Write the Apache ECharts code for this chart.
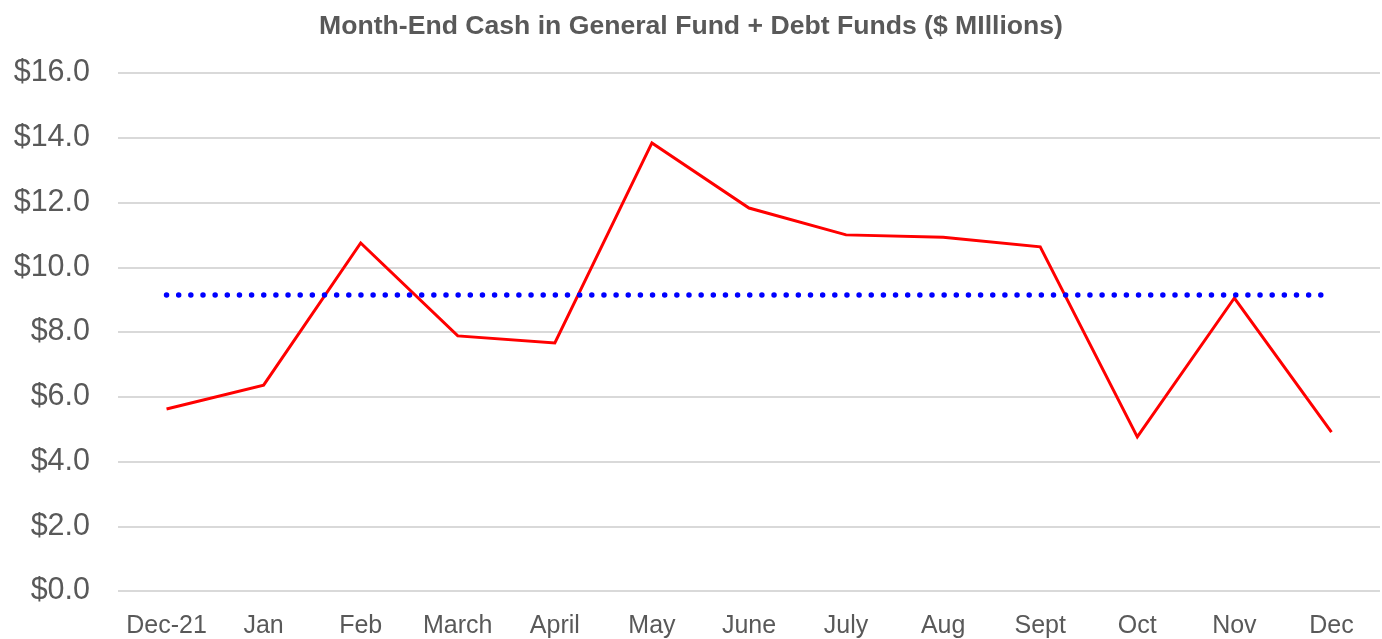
<!DOCTYPE html>
<html>
<head>
<meta charset="utf-8">
<script src="https://cdn.jsdelivr.net/npm/echarts@6/dist/echarts.min.js"></script>
<style>
  html, body { margin: 0; padding: 0; background: #fff; }
  #chart { width: 1382px; height: 639px; }
</style>
</head>
<body>
<div id="chart"></div>
<script>
const months = ['Dec-21', 'Jan', 'Feb', 'March', 'April', 'May', 'June', 'July', 'Aug', 'Sept', 'Oct', 'Nov', 'Dec'];
const cash = [5.62, 6.36, 10.75, 7.88, 7.66, 13.84, 11.83, 11.0, 10.93, 10.63, 4.76, 9.05, 4.91];
const average = [9.14, 9.14, 9.14, 9.14, 9.14, 9.14, 9.14, 9.14, 9.14, 9.14, 9.14, 9.14, 9.14];

const chart = echarts.init(document.getElementById('chart'));
chart.setOption({
  animation: false,
  backgroundColor: '#fff',
  title: {
    text: 'Month-End Cash in General Fund + Debt Funds ($ MIllions)',
    left: 'center',
    top: 8,
    textStyle: { fontFamily: 'Liberation Sans', fontSize: 26.6, fontWeight: 'bold', color: '#595959' },
  },
  grid: { left: 118, right: 2, top: 73, bottom: 48 },
  xAxis: {
    type: 'category',
    data: months,
    boundaryGap: true,
    axisLine: { show: false },
    axisTick: { show: false },
    axisLabel: { color: '#595959', fontSize: 25, fontFamily: 'Liberation Sans', margin: 23, interval: 0 },
  },
  yAxis: {
    type: 'value',
    min: 0,
    max: 16,
    interval: 2,
    axisLine: { show: false },
    axisTick: { show: false },
    splitLine: { lineStyle: { color: '#d9d9d9', width: 2 } },
    axisLabel: {
      color: '#595959', fontSize: 30.5, fontFamily: 'Liberation Sans', margin: 28,
      formatter: v => '$' + v.toFixed(1),
    },
  },
  series: [
    {
      type: 'line',
      data: cash,
      symbol: 'none',
      lineStyle: { color: '#ff0000', width: 3, join: 'miter' },
    },
    {
      type: 'line',
      data: average,
      symbol: 'none',
      lineStyle: { color: '#0000ff', width: 5.5, type: [0.01, 12.14], cap: 'round' },
    },
  ],
});
</script>
</body>
</html>
